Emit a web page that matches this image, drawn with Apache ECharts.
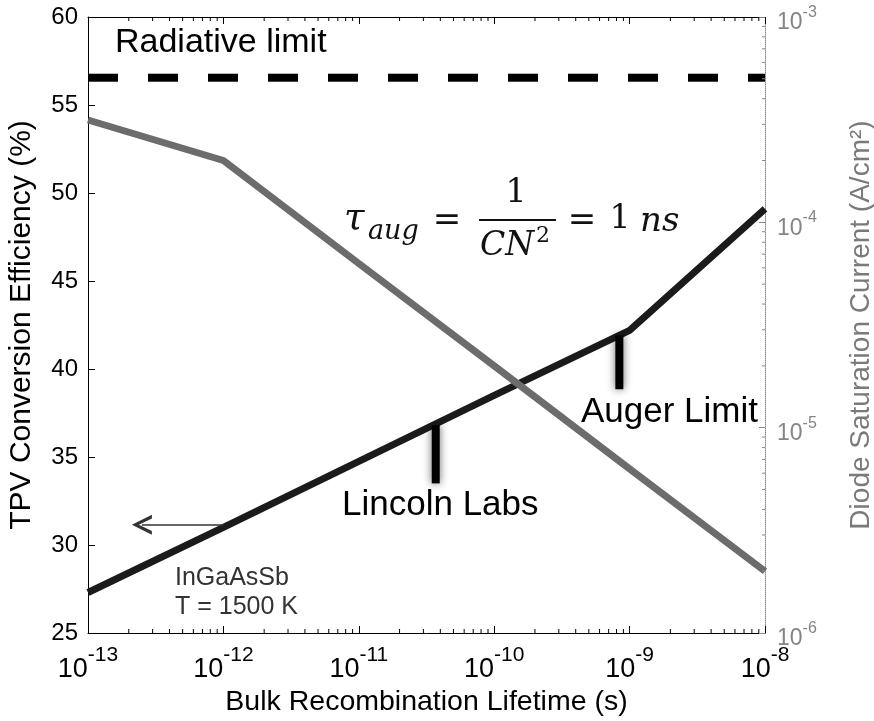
<!DOCTYPE html>
<html>
<head>
<meta charset="utf-8">
<script src="https://cdn.jsdelivr.net/npm/echarts@6/dist/echarts.min.js"></script>
<style>
  html, body { margin: 0; padding: 0; background: #fff; }
  #chart { width: 874px; height: 721px; }
</style>
</head>
<body>
<div id="chart"></div>
<script>
// Bulk recombination lifetime sweep (s)
const lifetimes = [1e-13, 1e-12, 1e-11, 1e-10, 1e-9, 1e-8];
// TPV conversion efficiency (%) - left axis
const efficiency = [27.3, 31.0, 34.75, 38.5, 42.2, 49.1];
// Diode saturation current (A/cm^2) - right axis
const saturationCurrent = [3.15e-4, 2.0e-4, 6.3e-5, 2.0e-5, 6.3e-6, 2.0e-6];
// Radiative-limit efficiency (%)
const radiativeLimit = 56.55;
// Reference points marked on the efficiency curve
const markerNames = ['Lincoln Labs', 'Auger Limit'];
const markerLifetimes = [3.7e-11, 8.4e-10];
const markerTop = [36.8, 41.9];
const markerBottom = [33.5, 38.85];
// Arrow tying the efficiency curve to the left axis
const arrowLifetimes = [1e-12, 2.5e-13];
const arrowLevel = 31.15;
// Axis ranges
const lifetimeRange = [1e-13, 1e-8];
const efficiencyRange = [25, 60];
const efficiencyStep = 5;
const currentRange = [1e-6, 1e-3];

const SANS = '"Liberation Sans", Arial, Helvetica, sans-serif';
const MATH = '"DejaVu Serif", "Liberation Serif", serif';

// minor log ticks (2..9 x 10^n) between two decades
function minorLogTicks(lo, hi) {
  const out = [];
  const e0 = Math.round(Math.log10(lo)), e1 = Math.round(Math.log10(hi));
  for (let e = e0; e < e1; e++) {
    for (let k = 2; k <= 9; k++) out.push(k * Math.pow(10, e));
  }
  return out;
}

function powLabel(v) {
  const e = Math.round(Math.log10(v));
  return '{b|10}{s|' + e + '}';
}

const chart = echarts.init(document.getElementById('chart'), null, { renderer: 'canvas' });

const xMinor = minorLogTicks(lifetimeRange[0], lifetimeRange[1]);
const yMinor = minorLogTicks(currentRange[0], currentRange[1]);

const markerSeries = markerLifetimes.map((t, i) => ({
  name: markerNames[i],
  type: 'line',
  xAxisIndex: 0,
  yAxisIndex: 0,
  symbol: 'none',
  silent: true,
  z: 4,
  lineStyle: {
    color: '#000', width: 8, cap: 'butt',
    shadowBlur: 8, shadowColor: 'rgba(0,0,0,0.6)'
  },
  data: [[t, markerTop[i]], [t, markerBottom[i]]]
}));

// open chevron arrow head (points up before rotation)
const chevron = 'path://M0,12 L6,0 L12,12 L9.8,12 L6,4.2 L2.2,12 Z';

const option = {
  animation: false,
  backgroundColor: '#fff',
  grid: { left: 88, right: 109, top: 17, bottom: 88, containLabel: false, outerBoundsMode: 'none' },
  xAxis: [
    {
      type: 'log', logBase: 10, min: lifetimeRange[0], max: lifetimeRange[1],
      position: 'bottom',
      name: 'Bulk Recombination Lifetime (s)',
      nameLocation: 'middle', nameGap: 55,
      nameTextStyle: { fontFamily: SANS, fontSize: 28.5, color: '#000' },
      axisLine: { lineStyle: { color: '#000', width: 1 } },
      axisTick: { inside: true, length: 7, lineStyle: { color: '#000' } },
      splitLine: { show: false },
      axisLabel: {
        margin: 12, formatter: powLabel,
        rich: {
          b: { fontFamily: SANS, fontSize: 27, lineHeight: 38, color: '#000', verticalAlign: 'bottom' },
          s: { fontFamily: SANS, fontSize: 21, lineHeight: 21, color: '#000', verticalAlign: 'top' }
        }
      }
    },
    {
      type: 'log', logBase: 10, min: lifetimeRange[0], max: lifetimeRange[1],
      position: 'top',
      axisLine: { lineStyle: { color: '#000', width: 1 } },
      axisTick: { inside: true, length: 7, lineStyle: { color: '#000' } },
      axisLabel: { show: false },
      splitLine: { show: false }
    }
  ],
  yAxis: [
    {
      type: 'value', min: efficiencyRange[0], max: efficiencyRange[1], interval: efficiencyStep,
      position: 'left',
      name: 'TPV Conversion Efficiency (%)',
      nameLocation: 'middle', nameGap: 51, nameRotate: 90,
      nameTextStyle: { fontFamily: SANS, fontSize: 30, color: '#000' },
      axisLine: { show: true, lineStyle: { color: '#000', width: 1 } },
      axisTick: { show: true, inside: true, length: 7, lineStyle: { color: '#000' } },
      splitLine: { show: false },
      axisLabel: { margin: 10, fontFamily: SANS, fontSize: 24, color: '#000' }
    },
    {
      type: 'log', logBase: 10, min: currentRange[0], max: currentRange[1],
      position: 'right',
      name: 'Diode Saturation Current (A/cm\u00B2)',
      nameLocation: 'middle', nameGap: 82, nameRotate: 90,
      nameTextStyle: { fontFamily: SANS, fontSize: 28, color: '#7a7a7a' },
      axisLine: { show: true, lineStyle: { color: '#8a8a8a', width: 1, type: 'dotted' } },
      axisTick: { show: true, inside: true, length: 6, lineStyle: { color: '#8a8a8a' } },
      splitLine: { show: false },
      axisLabel: {
        margin: 12, formatter: powLabel, padding: [5, 0, 0, 0],
        rich: {
          b: { fontFamily: SANS, fontSize: 23, lineHeight: 30, color: '#858585', verticalAlign: 'bottom' },
          s: { fontFamily: SANS, fontSize: 16, lineHeight: 16, color: '#858585', verticalAlign: 'top' }
        }
      }
    }
  ],
  series: [
    {
      name: 'Radiative limit',
      type: 'line', xAxisIndex: 0, yAxisIndex: 0,
      symbol: 'none', silent: true, z: 2,
      lineStyle: { color: '#000', width: 8, type: [30, 30], cap: 'butt' },
      data: [[lifetimeRange[0], radiativeLimit], [lifetimeRange[1], radiativeLimit]]
    },
    {
      name: 'Efficiency',
      type: 'line', xAxisIndex: 0, yAxisIndex: 0,
      symbol: 'none', silent: true, z: 3,
      lineStyle: { color: '#1b1b1b', width: 7 },
      data: lifetimes.map((t, i) => [t, efficiency[i]])
    },
    ...markerSeries,
    {
      name: 'Saturation current',
      type: 'line', xAxisIndex: 0, yAxisIndex: 1,
      symbol: 'none', silent: true, z: 5,
      lineStyle: { color: '#6c6c6c', width: 7 },
      data: lifetimes.map((t, i) => [t, saturationCurrent[i]])
    },
    {
      name: 'Axis arrow',
      type: 'lines', coordinateSystem: 'cartesian2d', xAxisIndex: 0, yAxisIndex: 0,
      symbol: ['none', chevron], symbolSize: [15, 20], silent: true, z: 6,
      itemStyle: { color: '#2a2a2a' },
      lineStyle: { color: '#333', width: 1.5, opacity: 1, curveness: 0 },
      data: [{ coords: [[arrowLifetimes[0], arrowLevel], [arrowLifetimes[1], arrowLevel]] }]
    },
    {
      // minor ticks on bottom and top lifetime axes
      name: 'x minor ticks',
      type: 'custom', xAxisIndex: 0, yAxisIndex: 0, silent: true, clip: false, z: 10,
      data: xMinor.map(v => [v, efficiencyRange[0]]),
      renderItem: function (params, api) {
        const v = api.value(0);
        const b = api.coord([v, efficiencyRange[0]]);
        const t = api.coord([v, efficiencyRange[1]]);
        return {
          type: 'group',
          children: [
            { type: 'line', shape: { x1: b[0], y1: b[1], x2: b[0], y2: b[1] - 4 }, style: { stroke: '#000', lineWidth: 1 } },
            { type: 'line', shape: { x1: t[0], y1: t[1], x2: t[0], y2: t[1] + 4 }, style: { stroke: '#000', lineWidth: 1 } }
          ]
        };
      }
    },
    {
      // minor ticks on the right current axis
      name: 'y minor ticks',
      type: 'custom', xAxisIndex: 0, yAxisIndex: 1, silent: true, clip: false, z: 10,
      data: yMinor.map(v => [lifetimeRange[1], v]),
      renderItem: function (params, api) {
        const p = api.coord([lifetimeRange[1], api.value(1)]);
        return { type: 'line', shape: { x1: p[0], y1: p[1], x2: p[0] - 3, y2: p[1] }, style: { stroke: '#8a8a8a', lineWidth: 1 } };
      }
    }
  ],
  graphic: [
    { type: 'text', x: 115, y: 43, style: { text: 'Radiative limit', font: '34px ' + SANS, fill: '#000', verticalAlign: 'middle', textVerticalAlign: 'middle' } },
    { type: 'text', x: 342, y: 505, style: { text: markerNames[0], font: '35px ' + SANS, fill: '#000', verticalAlign: 'middle', textVerticalAlign: 'middle' } },
    { type: 'text', x: 581, y: 412, style: { text: markerNames[1], font: '35px ' + SANS, fill: '#000', verticalAlign: 'middle', textVerticalAlign: 'middle' } },
    { type: 'text', x: 175, y: 578, style: { text: 'InGaAsSb', font: '25px ' + SANS, fill: '#333', verticalAlign: 'middle', textVerticalAlign: 'middle' } },
    { type: 'text', x: 175, y: 607, style: { text: 'T = 1500 K', font: '25px ' + SANS, fill: '#333', verticalAlign: 'middle', textVerticalAlign: 'middle' } },
    // Auger lifetime expression
    { type: 'text', x: 344, y: 219, style: { text: '\u03C4', font: 'italic 37px ' + MATH, fill: '#111', verticalAlign: 'middle', textVerticalAlign: 'middle' } },
    { type: 'text', x: 368, y: 232, style: { text: 'aug', font: 'italic 27px ' + MATH, fill: '#111', verticalAlign: 'middle', textVerticalAlign: 'middle' } },
    { type: 'text', x: 447, y: 221, style: { text: '=', font: '34px ' + MATH, fill: '#111', align: 'center', textAlign: 'center', verticalAlign: 'middle', textVerticalAlign: 'middle' } },
    { type: 'line', shape: { x1: 479, y1: 220, x2: 556, y2: 220 }, style: { stroke: '#111', lineWidth: 2 } },
    { type: 'text', x: 516, y: 193, style: { text: '1', font: '33px ' + MATH, fill: '#111', align: 'center', textAlign: 'center', verticalAlign: 'middle', textVerticalAlign: 'middle' } },
    { type: 'text', x: 534, y: 246, style: { text: 'CN', font: 'italic 33px ' + MATH, fill: '#111', align: 'right', textAlign: 'right', verticalAlign: 'middle', textVerticalAlign: 'middle' } },
    { type: 'text', x: 536, y: 236, style: { text: '2', font: '22px ' + MATH, fill: '#111', verticalAlign: 'middle', textVerticalAlign: 'middle' } },
    { type: 'text', x: 582, y: 221, style: { text: '=', font: '34px ' + MATH, fill: '#111', align: 'center', textAlign: 'center', verticalAlign: 'middle', textVerticalAlign: 'middle' } },
    { type: 'text', x: 620, y: 219, style: { text: '1', font: '33px ' + MATH, fill: '#111', align: 'center', textAlign: 'center', verticalAlign: 'middle', textVerticalAlign: 'middle' } },
    { type: 'text', x: 640, y: 222, style: { text: 'ns', font: 'italic 34px ' + MATH, fill: '#111', verticalAlign: 'middle', textVerticalAlign: 'middle' } }
  ]
};

chart.setOption(option);
</script>
</body>
</html>
